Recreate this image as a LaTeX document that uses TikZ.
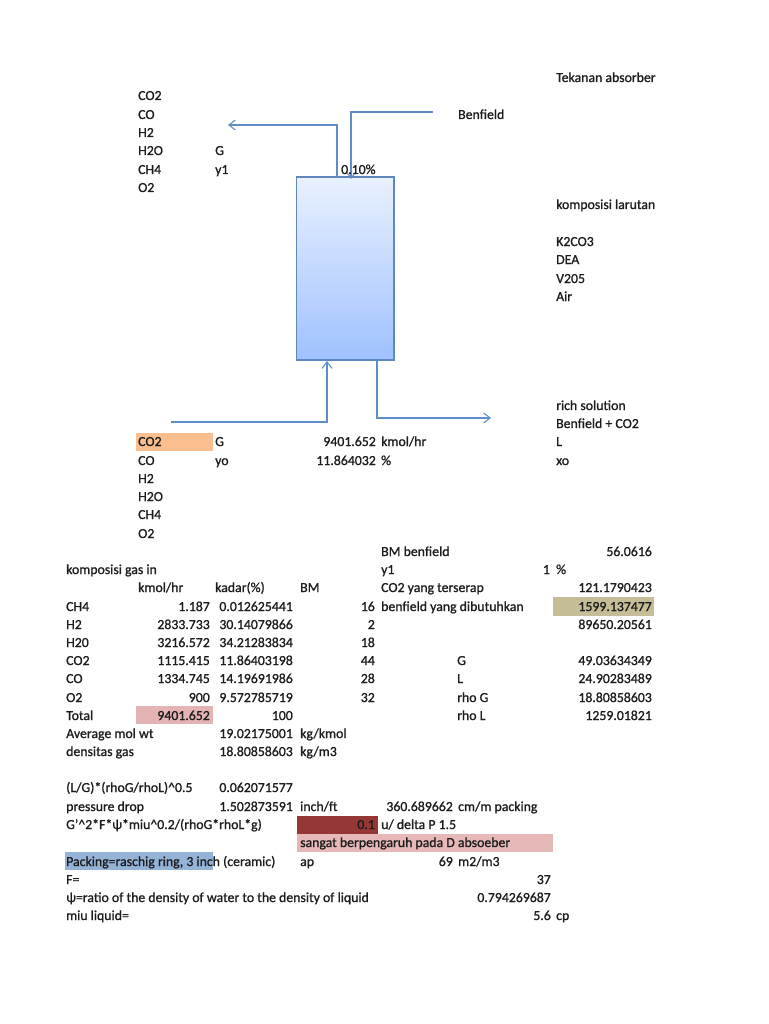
\documentclass[tikz,border=0pt]{standalone}
\usepackage{fontspec}
\setmainfont{Carlito}[RawFeature={embolden=1.0}]
\usetikzlibrary{shadows,arrows.meta}
\definecolor{flowblue}{HTML}{5F8DC6}
\definecolor{towerline}{HTML}{5F88BC}
\definecolor{towertop}{HTML}{E9F1FF}
\definecolor{towerbot}{HTML}{9FC1FF}
\definecolor{inkgrey}{HTML}{1C1C1C}
\definecolor{cellorange}{HTML}{FBBE8E}
\definecolor{cellrose}{HTML}{E4B3B4}
\definecolor{celltan}{HTML}{C4BD97}
\definecolor{celldark}{HTML}{953735}
\definecolor{cellpink}{HTML}{E6B8B7}
\definecolor{cellblue}{HTML}{95B3D7}
\tikzset{
    lab/.style={anchor=west, inner sep=0pt, text height=12pt, text depth=2pt, text=inkgrey, font=\fontsize{13.8}{15}\selectfont},
    val/.style={lab, anchor=east},
    flow/.style={draw=flowblue, line width=1.1pt, -{Straight Barb[length=6.5pt,width=10pt]}}
}
\begin{document}
\begin{tikzpicture}[x=1pt,y=-1pt]
    \useasboundingbox (0,0) rectangle (768,1024);

    % Highlighted cells
    \fill[cellorange] (136,433) rectangle (213,451);
    \fill[cellrose] (136,706) rectangle (213,724);
    \fill[celltan] (553,597) rectangle (654,616);
    \fill[celldark] (297,816) rectangle (378,834);
    \fill[cellpink] (297,834) rectangle (553,852);
    \fill[cellblue] (65,852) rectangle (213,870);

    % Absorber column
    \node[draw=towerline, line width=1.1pt, top color=towertop, bottom color=towerbot,
        minimum width=97.5pt, minimum height=183pt, inner sep=0pt,
        drop shadow={shadow xshift=0.4pt, shadow yshift=-1.4pt, opacity=0.3}]
        (tower) at (345.25,268.5) {};

    % Stream ends
    \coordinate (ventport) at (337,177);
    \coordinate (ventend) at (228,125);
    \coordinate (solvstart) at (433,112);
    \coordinate (solvport) at (351,179);
    \coordinate (gasstart) at (171,422);
    \coordinate (gasport) at (327,361);
    \coordinate (richport) at (377,360);
    \coordinate (richend) at (491,418);

    % Streams
    \draw[flow] (ventport) |- (ventend);
    \draw[flow] (solvstart) -| (solvport);
    \draw[flow] (gasstart) -| (gasport);
    \draw[flow] (richport) |- (richend);

    % Top of column
    \begin{scope}
        \clip (500,60) rectangle (656,90);
        \node[lab] (pressure) at (556,77) {Tekanan absorber};
    \end{scope}
    \node[lab] (topco2) at (138,95) {CO2};
    \node[lab] (topco) at (138,114) {CO};
    \node[lab] (toph2) at (138,132) {H2};
    \node[lab] (toph2o) at (138,150) {H2O};
    \node[lab] (topch4) at (138,169) {CH4};
    \node[lab] (topo2) at (138,187) {O2};
    \node[lab] (topg) at (215,150) {G};
    \node[lab] (topy) at (215,169) {y1};
    \node[lab] (toppct) at (341,169) {0.10\%};
    \node[lab] (benfield) at (458,114) {Benfield};

    % Solution composition
    \node[lab] (solution) at (556,204) {komposisi larutan};
    \node[lab] (k2co3) at (556,241) {K2CO3};
    \node[lab] (dea) at (556,259) {DEA};
    \node[lab] (v2o5) at (556,278) {V205};
    \node[lab] (air) at (556,296) {Air};

    % Bottom of column
    \node[lab] (rich) at (556,405) {rich solution};
    \node[lab] (richmix) at (556,423) {Benfield + CO2};
    \node[lab] (richl) at (556,441) {L};
    \node[lab] (richx) at (556,460) {xo};
    \node[lab] (botco2) at (138,441) {CO2};
    \node[lab] (botco) at (138,460) {CO};
    \node[lab] (both2) at (138,478) {H2};
    \node[lab] (both2o) at (138,496) {H2O};
    \node[lab] (botch4) at (138,514) {CH4};
    \node[lab] (boto2) at (138,533) {O2};
    \node[lab] (botg) at (215,441) {G};
    \node[lab] (boty) at (215,460) {yo};
    \node[val] (botgval) at (376,441) {9401.652};
    \node[lab] (botgunit) at (381,441) {kmol/hr};
    \node[val] (botyval) at (376,460) {11.864032};
    \node[lab] (botyunit) at (381,460) {\%};

    % Gas feed table
    \node[lab] (gastitle) at (66,569) {komposisi gas in};
    \node[lab] (headflow) at (138,587) {kmol/hr};
    \node[lab] (headpct) at (215,587) {kadar(\%)};
    \node[lab] (headbm) at (300,587) {BM};
    \node[lab] (rowch4) at (66,606) {CH4};
    \node[val] (flowch4) at (210,606) {1.187};
    \node[val] (pctch4) at (293,606) {0.012625441};
    \node[val] (bmch4) at (375,606) {16};
    \node[lab] (rowh2) at (66,624) {H2};
    \node[val] (flowh2) at (210,624) {2833.733};
    \node[val] (pcth2) at (293,624) {30.14079866};
    \node[val] (bmh2) at (375,624) {2};
    \node[lab] (rowh2o) at (66,642) {H20};
    \node[val] (flowh2o) at (210,642) {3216.572};
    \node[val] (pcth2o) at (293,642) {34.21283834};
    \node[val] (bmh2o) at (375,642) {18};
    \node[lab] (rowco2) at (66,660) {CO2};
    \node[val] (flowco2) at (210,660) {1115.415};
    \node[val] (pctco2) at (293,660) {11.86403198};
    \node[val] (bmco2) at (375,660) {44};
    \node[lab] (rowco) at (66,678) {CO};
    \node[val] (flowco) at (210,678) {1334.745};
    \node[val] (pctco) at (293,678) {14.19691986};
    \node[val] (bmco) at (375,678) {28};
    \node[lab] (rowo2) at (66,697) {O2};
    \node[val] (flowo2) at (210,697) {900};
    \node[val] (pcto2) at (293,697) {9.572785719};
    \node[val] (bmo2) at (375,697) {32};
    \node[lab] (rowtotal) at (66,715) {Total};
    \node[val] (flowtotal) at (210,715) {9401.652};
    \node[val] (pcttotal) at (293,715) {100};
    \node[lab] (rowmw) at (66,733) {Average mol wt};
    \node[val] (valmw) at (293,733) {19.02175001};
    \node[lab] (unitmw) at (300,733) {kg/kmol};
    \node[lab] (rowrho) at (66,751) {densitas gas};
    \node[val] (valrho) at (293,751) {18.80858603};
    \node[lab] (unitrho) at (300,751) {kg/m3};

    % Benfield results
    \node[lab] (bmbenf) at (381,551) {BM benfield};
    \node[val] (bmbenfval) at (652,551) {56.0616};
    \node[lab] (ysolv) at (381,569) {y1};
    \node[val] (ysolvval) at (550,569) {1};
    \node[lab] (ysolvunit) at (556,569) {\%};
    \node[lab] (absorbed) at (381,587) {CO2 yang terserap};
    \node[val] (absorbedval) at (652,587) {121.1790423};
    \node[lab] (needed) at (381,606) {benfield yang dibutuhkan};
    \node[val] (neededval) at (652,606) {1599.137477};
    \node[val] (neededmass) at (652,624) {89650.20561};
    \node[lab] (resg) at (457,660) {G};
    \node[val] (resgval) at (652,660) {49.03634349};
    \node[lab] (resl) at (457,678) {L};
    \node[val] (reslval) at (652,678) {24.90283489};
    \node[lab] (resrhog) at (457,697) {rho G};
    \node[val] (resrhogval) at (652,697) {18.80858603};
    \node[lab] (resrhol) at (457,715) {rho L};
    \node[val] (resrholval) at (652,715) {1259.01821};

    % Pressure drop and packing
    \node[lab] (flowpar) at (66,787) {(L/G)*(rhoG/rhoL)\textasciicircum 0.5};
    \node[val] (flowparval) at (293,787) {0.062071577};
    \node[lab] (dp) at (66,806) {pressure drop};
    \node[val] (dpval) at (293,806) {1.502873591};
    \node[lab] (dpunit) at (300,806) {inch/ft};
    \node[val] (dpcm) at (453,806) {360.689662};
    \node[lab] (dpcmunit) at (458,806) {cm/m packing};
    \node[lab] (corr) at (66,824) {G'\textasciicircum 2*F*ψ*miu\textasciicircum 0.2/(rhoG*rhoL*g)};
    \node[val] (corrval) at (375,824) {0.1};
    \node[lab] (corrnote) at (381,824) {u/ delta P 1.5};
    \node[lab] (warning) at (300,842) {sangat berpengaruh pada D absoeber};
    \node[lab] (packing) at (66,861) {Packing=raschig ring, 3 inch (ceramic)};
    \node[lab] (aplab) at (300,861) {ap};
    \node[val] (apval) at (453,861) {69};
    \node[lab] (apunit) at (458,861) {m2/m3};
    \node[lab] (flab) at (66,879) {F=};
    \node[val] (fval) at (551,879) {37};
    \node[lab] (psilab) at (66,897) {ψ=ratio of the density of water to the density of liquid};
    \node[val] (psival) at (551,897) {0.794269687};
    \node[lab] (miulab) at (66,915) {miu liquid=};
    \node[val] (miuval) at (551,915) {5.6};
    \node[lab] (miuunit) at (556,915) {cp};
\end{tikzpicture}
\end{document}
